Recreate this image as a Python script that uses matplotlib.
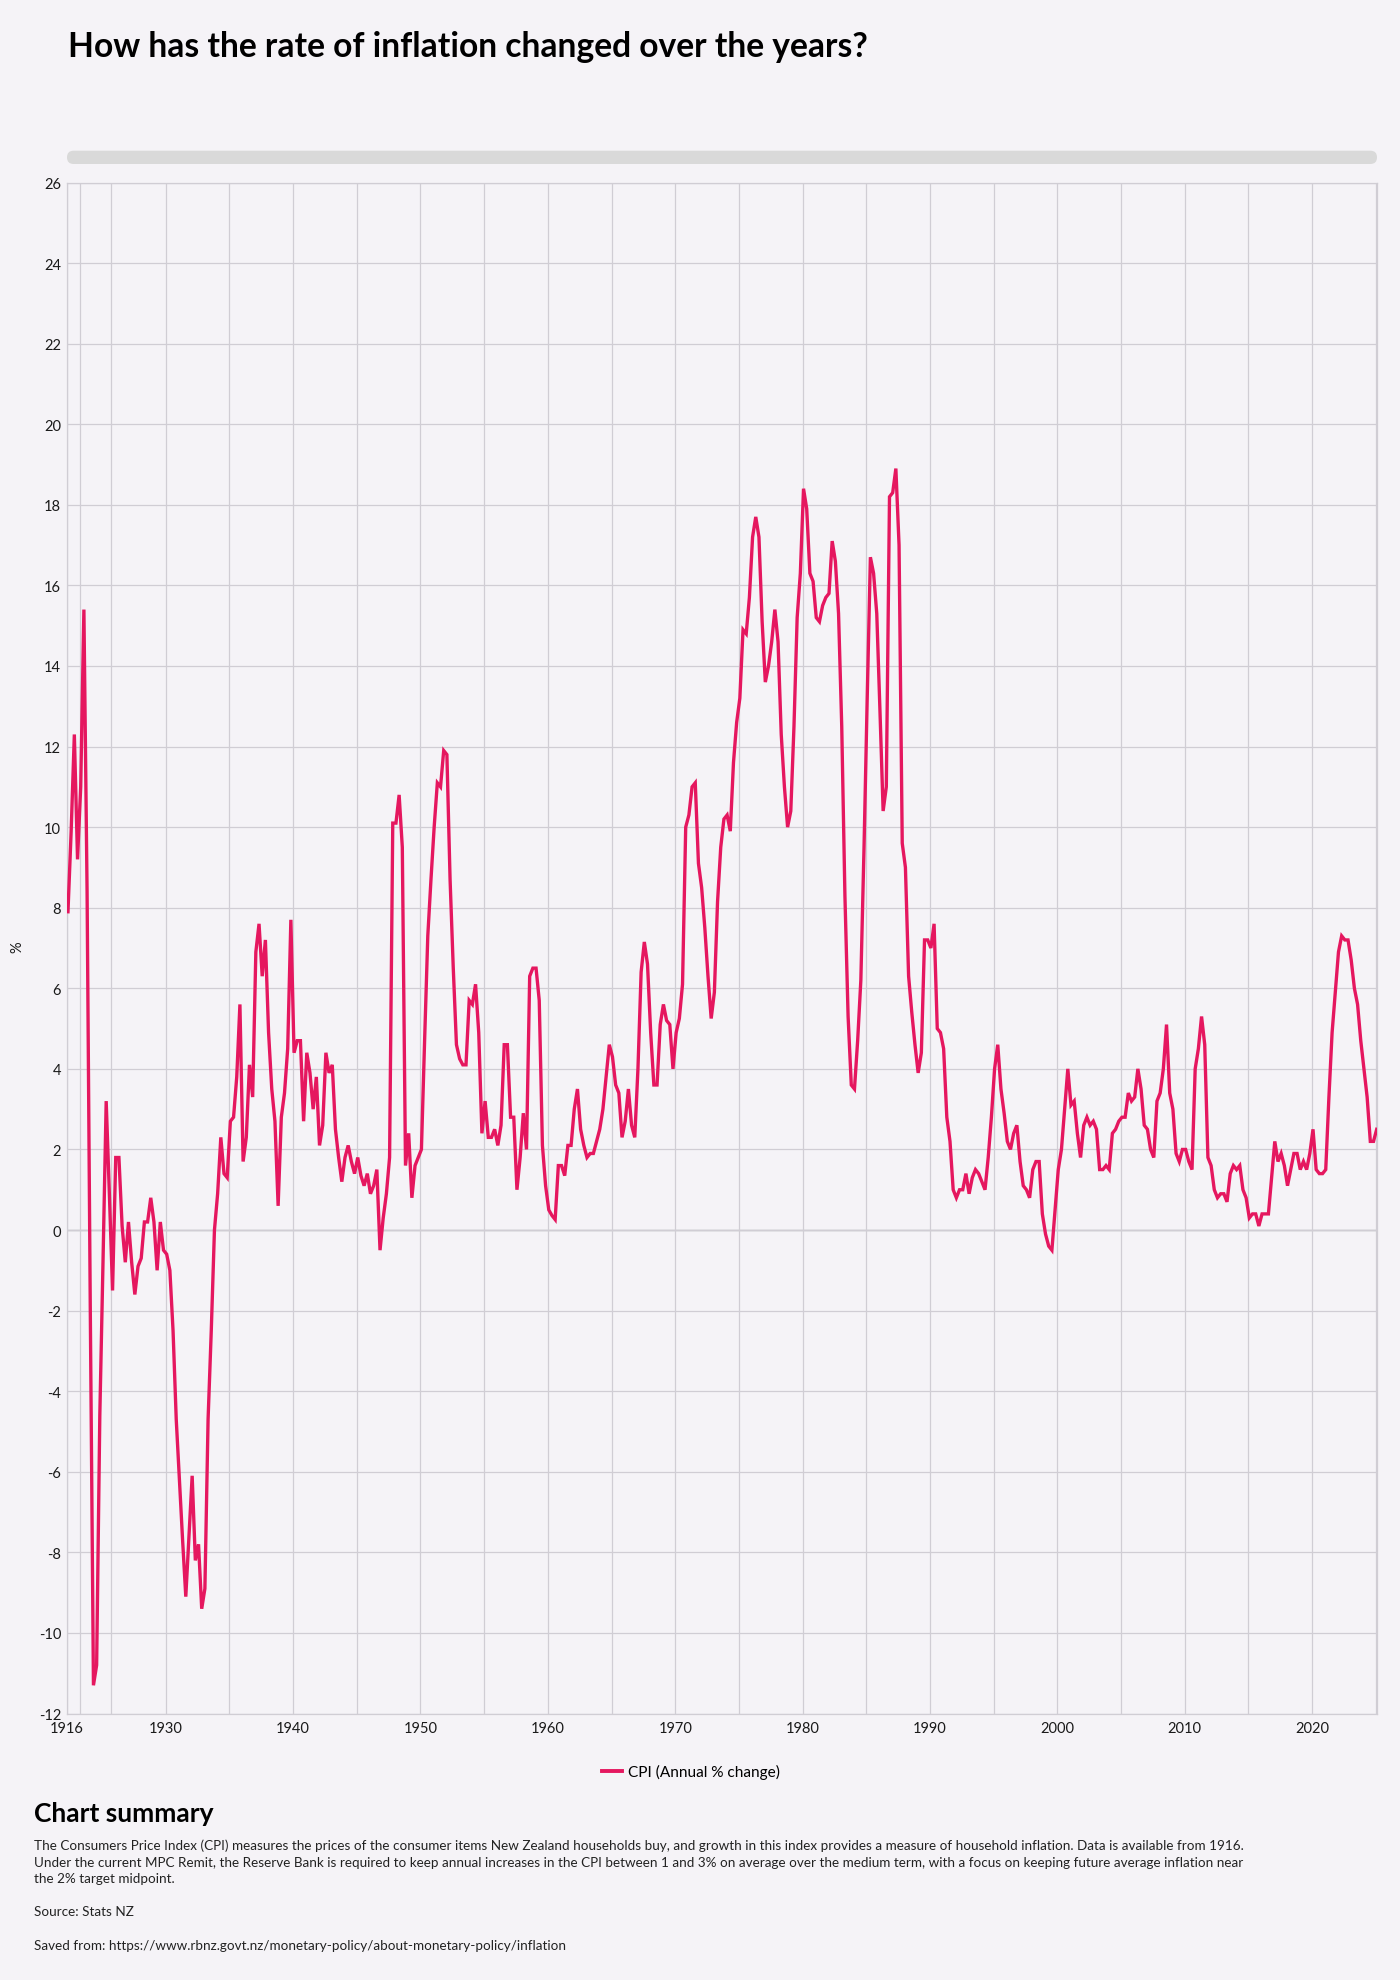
import matplotlib
matplotlib.use('Agg')
import matplotlib.pyplot as plt
from matplotlib.patches import FancyBboxPatch
from matplotlib.lines import Line2D
from matplotlib.transforms import IdentityTransform

plt.rcParams['font.family'] = ['Lato', 'DejaVu Sans']

# CPI annual % change, one value per observation
# (early observations up to 1929, then quarterly from 1930 Q1)
cpi_pre1930 = [7.9, 9.9, 12.3, 9.2, 11.0, 15.4, 8.4, -1.9, -11.3, -10.8,
               -4.6, -0.8, 3.2, 0.9, -1.5, 1.8, 1.8, 0.1, -0.8, 0.2,
               -0.8, -1.6, -0.9, -0.7, 0.2, 0.2, 0.8, 0.2, -1.0, 0.2, -0.5]
cpi_1930s = [-0.6, -1.0, -2.5, -4.7, -6.2, -7.7, -9.1, -7.6, -6.1, -8.2,
             -7.8, -9.4, -8.9, -4.7, -2.5, 0.0, 0.9, 2.3, 1.4, 1.3,
             2.7, 2.8, 3.8, 5.6, 1.7, 2.3, 4.1, 3.3, 6.9, 7.6,
             6.3, 7.2, 4.9, 3.5, 2.7, 0.6, 2.8, 3.4, 4.5, 7.7]
cpi_1940s = [4.4, 4.7, 4.7, 2.7, 4.4, 3.9, 3.0, 3.8, 2.1, 2.6,
             4.4, 3.9, 4.1, 2.5, 1.8, 1.2, 1.8, 2.1, 1.7, 1.4,
             1.8, 1.35, 1.1, 1.4, 0.9, 1.1, 1.5, -0.5, 0.3, 0.9,
             1.8, 10.1, 10.1, 10.8, 9.5, 1.6, 2.4, 0.8, 1.6, 1.8]
cpi_1950s = [2.0, 4.7, 7.3, 8.7, 10.0, 11.1, 11.0, 11.9, 11.8, 8.7,
             6.5, 4.6, 4.25, 4.1, 4.1, 5.7, 5.6, 6.1, 4.9, 2.4,
             3.2, 2.3, 2.3, 2.5, 2.1, 2.6, 4.6, 4.6, 2.8, 2.8,
             1.0, 1.8, 2.9, 2.0, 6.3, 6.5, 6.5, 5.7, 2.1, 1.1]
cpi_1960s = [0.5, 0.36, 0.26, 1.6, 1.6, 1.35, 2.1, 2.1, 3.0, 3.5,
             2.5, 2.1, 1.8, 1.9, 1.9, 2.2, 2.5, 3.0, 3.8, 4.6,
             4.3, 3.6, 3.4, 2.3, 2.7, 3.5, 2.6, 2.3, 4.0, 6.4,
             7.15, 6.6, 4.9, 3.6, 3.6, 5.1, 5.6, 5.2, 5.1, 4.0]
cpi_1970s = [4.9, 5.25, 6.1, 10.0, 10.3, 11.0, 11.1, 9.1, 8.5, 7.5,
             6.3, 5.25, 5.9, 8.15, 9.5, 10.2, 10.3, 9.9, 11.6, 12.6,
             13.2, 14.9, 14.8, 15.7, 17.2, 17.7, 17.2, 15.1, 13.6, 14.0,
             14.6, 15.4, 14.6, 12.3, 11.0, 10.0, 10.4, 12.5, 15.2, 16.3]
cpi_1980s = [18.4, 17.9, 16.3, 16.1, 15.2, 15.1, 15.5, 15.7, 15.8, 17.1,
             16.6, 15.3, 12.5, 8.3, 5.3, 3.6, 3.5, 4.7, 6.2, 9.5,
             13.2, 16.7, 16.3, 15.3, 12.9, 10.4, 11.0, 18.2, 18.3, 18.9,
             17.0, 9.6, 9.0, 6.3, 5.4, 4.6, 3.9, 4.4, 7.2, 7.2]
cpi_1990s = [7.0, 7.6, 5.0, 4.9, 4.5, 2.8, 2.2, 1.0, 0.8, 1.0,
             1.0, 1.4, 0.9, 1.3, 1.5, 1.4, 1.2, 1.0, 1.8, 2.8,
             4.0, 4.6, 3.5, 2.9, 2.2, 2.0, 2.4, 2.6, 1.7, 1.1,
             1.0, 0.8, 1.5, 1.7, 1.7, 0.4, -0.1, -0.4, -0.5, 0.5]
cpi_2000s = [1.5, 2.0, 3.0, 4.0, 3.1, 3.2, 2.4, 1.8, 2.6, 2.8,
             2.6, 2.7, 2.5, 1.5, 1.5, 1.6, 1.5, 2.4, 2.5, 2.7,
             2.8, 2.8, 3.4, 3.2, 3.3, 4.0, 3.5, 2.6, 2.5, 2.0,
             1.8, 3.2, 3.4, 4.0, 5.1, 3.4, 3.0, 1.9, 1.7, 2.0]
cpi_2010s = [2.0, 1.7, 1.5, 4.0, 4.5, 5.3, 4.6, 1.8, 1.6, 1.0,
             0.8, 0.9, 0.9, 0.7, 1.4, 1.6, 1.5, 1.6, 1.0, 0.8,
             0.3, 0.4, 0.4, 0.1, 0.4, 0.4, 0.4, 1.3, 2.2, 1.7,
             1.9, 1.6, 1.1, 1.5, 1.9, 1.9, 1.5, 1.7, 1.5, 1.9]
cpi_2020s = [2.5, 1.5, 1.4, 1.4, 1.5, 3.3, 4.9, 5.9, 6.9, 7.3,
             7.2, 7.2, 6.7, 6.0, 5.6, 4.7, 4.0, 3.3, 2.2, 2.2, 2.5]

cpi = (cpi_pre1930 + cpi_1930s + cpi_1940s + cpi_1950s + cpi_1960s +
       cpi_1970s + cpi_1980s + cpi_1990s + cpi_2000s + cpi_2010s + cpi_2020s)

label_years = [1916, 1930, 1940, 1950, 1960, 1970, 1980, 1990, 2000, 2010, 2020]
grid_years = [1916, 1920, 1925] + list(range(1930, 2030, 5))
y_ticks = list(range(-12, 27, 2))

title = 'How has the rate of inflation changed over the years?'
summary = [
    'The Consumers Price Index (CPI) measures the prices of the consumer items New Zealand households buy, '
    'and growth in this index provides a measure of household inflation. Data is available from 1916.',
    'Under the current MPC Remit, the Reserve Bank is required to keep annual increases in the CPI between '
    '1 and 3% on average over the medium term, with a focus on keeping future average inflation near',
    'the 2% target midpoint.',
]

BG = '#f5f3f7'
LINE = '#e5175f'
GRID = '#d0cdd4'
W, H = 1400, 1981


def year_pos(year):
    # observations are evenly spaced, so years map onto observation index
    early = {1916: -0.4, 1920: 3.7, 1925: 13.5}
    if year in early:
        return early[year]
    return 30.7 + 4 * (year - 1930)


fig = plt.figure(figsize=(W / 100, H / 100), dpi=100, facecolor=BG)
ax = fig.add_axes([66.7 / W, (H - 1714.5) / H, 1310.3 / W, 1531 / H])
ax.set_facecolor(BG)

x = list(range(len(cpi)))
ax.plot(x, cpi, color=LINE, lw=2.4, solid_joinstyle='miter', zorder=3)

ax.set_xlim(-0.4, 411.1)
ax.set_ylim(-12, 26)
ax.set_yticks(y_ticks)
ax.set_yticklabels([str(v) for v in y_ticks])
ax.set_xticks([year_pos(y) for y in grid_years])
ax.set_xticklabels([str(y) if y in label_years else '' for y in grid_years])
ax.tick_params(length=0, labelsize=10.5, colors='#1a1a1a')
ax.tick_params(axis='x', pad=5.5)
ax.tick_params(axis='y', pad=4)
ax.grid(True, color=GRID, lw=0.9, zorder=0)
ax.axhline(0, color='#a8a7ab', lw=1.0, zorder=1)
for s in ax.spines.values():
    s.set_color(GRID)
    s.set_linewidth(0.9)

fig.text(17.7 / W, 1 - 947 / H, '%', rotation=90, ha='center', va='center',
         fontsize=10.5, color='#1a1a1a')

# legend under the chart
handle = Line2D([], [], color=LINE, lw=2.8)
fig.legend([handle], ['CPI (Annual % change)'], loc='center',
           bbox_to_anchor=(691 / W, 1 - 1772.7 / H), frameon=False,
           fontsize=11.1, handlelength=1.3, handletextpad=0.45)

# grey scroll bar above the plot
bar = FancyBboxPatch((67, H - 165), 1310, 13.3,
                     boxstyle='round,pad=0,rounding_size=6.6',
                     transform=IdentityTransform(), facecolor='#d9d9d9',
                     edgecolor='none')
fig.patches.append(bar)

fig.text(67.5 / W, 1 - 57 / H, title, fontsize=24.2, fontweight='bold',
         va='baseline', color='#000000')

fig.text(34 / W, 1 - 1822 / H, 'Chart summary', fontsize=19,
         fontweight='bold', va='baseline', color='#000000')
for k, line in enumerate(summary):
    fig.text(34 / W, 1 - (1850 + 16.7 * k) / H, line, fontsize=9.75,
             va='baseline', color='#222222')
fig.text(34 / W, 1 - 1916.5 / H, 'Source: Stats NZ', fontsize=9.75,
         va='baseline', color='#222222')
fig.text(34 / W, 1 - 1950 / H,
         'Saved from: https://www.rbnz.govt.nz/monetary-policy/about-monetary-policy/inflation',
         fontsize=9.75, va='baseline', color='#222222')

fig.savefig('out.png', dpi=100, facecolor=BG)
